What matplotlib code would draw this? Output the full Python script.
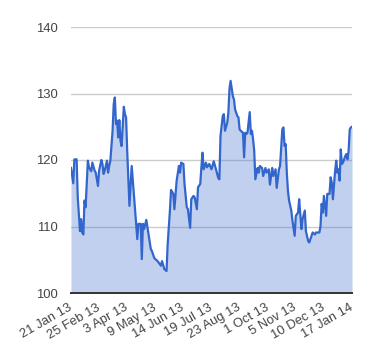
import matplotlib
matplotlib.use("Agg")
import matplotlib.pyplot as plt

# trading day index (0..250) and closing value
day = [0, 2, 3, 5, 6, 8, 9, 10, 11, 12, 13, 15, 16, 18, 19, 21, 22, 24, 25, 27,
       28, 29, 30, 32, 33, 34, 35, 37, 38, 39, 40, 41, 42, 43, 44, 45, 47, 48, 49, 50,
       52, 54, 55, 57, 59, 60, 62, 63, 64, 65, 67, 69, 71, 72, 74, 75, 77, 80, 81, 83,
       85, 86, 88, 89, 91, 92, 94, 96, 97, 98, 100, 101, 103, 104, 106, 107, 109, 110, 112, 113,
       115, 116, 117, 118, 120, 121, 123, 125, 127, 129, 131, 132, 133, 135, 136, 137, 139, 140, 141, 142,
       144, 145, 146, 148, 149, 150, 151, 153, 154, 155, 156, 157, 159, 160, 161, 162, 163, 164, 166, 167,
       168, 170, 171, 173, 174, 176, 177, 179, 180, 182, 183, 185, 186, 188, 189, 190, 191, 192, 193, 194,
       196, 197, 199, 200, 202, 203, 205, 206, 208, 209, 211, 212, 214, 215, 217, 218, 221, 222, 223, 224,
       225, 227, 228, 230, 231, 232, 233, 235, 236, 237, 238, 239, 240, 241, 242, 244, 245, 246, 247, 248,
       249, 250]
price = [118.8, 116.5, 120.1, 120.1, 114.4, 109.3, 111.1, 109.1, 108.8, 113.9, 112.9, 119.9, 118.9, 118.3, 119.6, 118.4, 118.1, 116.1, 118.4, 120.0,
         119.4, 117.9, 118.4, 119.9, 118.1, 119.1, 119.9, 124.4, 128.4, 129.4, 125.4, 125.9, 123.4, 126.0, 122.9, 122.1, 128.0, 126.9, 126.4, 121.4,
         113.1, 119.1, 116.9, 112.4, 108.1, 110.4, 110.4, 105.1, 110.4, 109.6, 111.0, 108.8, 106.6, 106.3, 105.3, 105.1, 104.8, 104.1, 104.8, 103.6,
         103.3, 107.3, 112.4, 115.5, 114.9, 112.6, 116.9, 119.1, 118.1, 119.6, 119.4, 116.4, 112.9, 112.6, 109.8, 114.1, 114.6, 114.4, 112.6, 115.9,
         116.4, 118.9, 121.1, 118.6, 119.6, 118.9, 119.4, 118.6, 119.8, 118.6, 117.3, 117.1, 123.6, 126.6, 126.9, 124.4, 125.6, 127.1, 130.7, 131.9,
         129.6, 129.1, 127.6, 126.6, 126.4, 124.6, 124.4, 124.1, 120.4, 124.1, 123.9, 124.1, 127.2, 123.9, 124.4, 123.1, 121.4, 117.1, 118.8, 118.1,
         119.1, 118.8, 117.6, 118.8, 118.1, 118.6, 116.3, 118.8, 117.6, 118.6, 115.8, 118.6, 119.1, 124.6, 124.9, 122.1, 122.4, 118.1, 115.4, 113.9,
         112.4, 110.9, 108.6, 111.6, 112.1, 114.1, 109.6, 111.1, 112.4, 109.3, 107.8, 107.6, 108.6, 109.1, 108.8, 109.1, 109.1, 110.1, 113.4, 112.1,
         114.6, 111.6, 114.9, 114.9, 117.4, 116.6, 114.1, 118.4, 119.9, 118.1, 118.6, 116.9, 121.6, 119.4, 119.6, 120.6, 120.9, 120.1, 121.4, 124.6,
         124.9, 125.0]

tick_days = [0, 25, 50, 75, 100, 125, 150, 175, 200, 225, 250]
tick_labels = ["21 Jan 13", "25 Feb 13", "3 Apr 13", "9 May 13", "14 Jun 13", "19 Jul 13",
               "23 Aug 13", "1 Oct 13", "5 Nov 13", "10 Dec 13", "17 Jan 14"]
y_ticks = [100, 110, 120, 130, 140]

plt.rcParams["font.family"] = ["Liberation Sans", "DejaVu Sans"]

fig = plt.figure(figsize=(3.8, 3.6), dpi=100)
ax = fig.add_axes([71 / 380, 1 - 293 / 360, 281 / 380, 266 / 360])

ax.fill_between(day, price, 100, color="#3366cc", alpha=0.3, linewidth=0)
ax.plot(day, price, color="#3366cc", linewidth=1.6, solid_joinstyle="round")

ax.set_xlim(0, 250)
ax.set_ylim(100, 140)
ax.set_yticks(y_ticks)
ax.set_xticks(tick_days)
ax.set_xticklabels(tick_labels, rotation=30, ha="right", va="center", rotation_mode="anchor")

ax.grid(axis="y", color="#cccccc", linewidth=1)
ax.set_axisbelow(True)
for s in ["top", "right", "left"]:
    ax.spines[s].set_visible(False)
ax.spines["bottom"].set_color("#333333")
ax.spines["bottom"].set_linewidth(1.4)
ax.spines["bottom"].set_zorder(5)

ax.tick_params(axis="both", length=0, labelsize=9.4, labelcolor="#444444")
ax.tick_params(axis="y", pad=9.5)
ax.tick_params(axis="x", pad=10)

fig.savefig("out.png", dpi=100)
